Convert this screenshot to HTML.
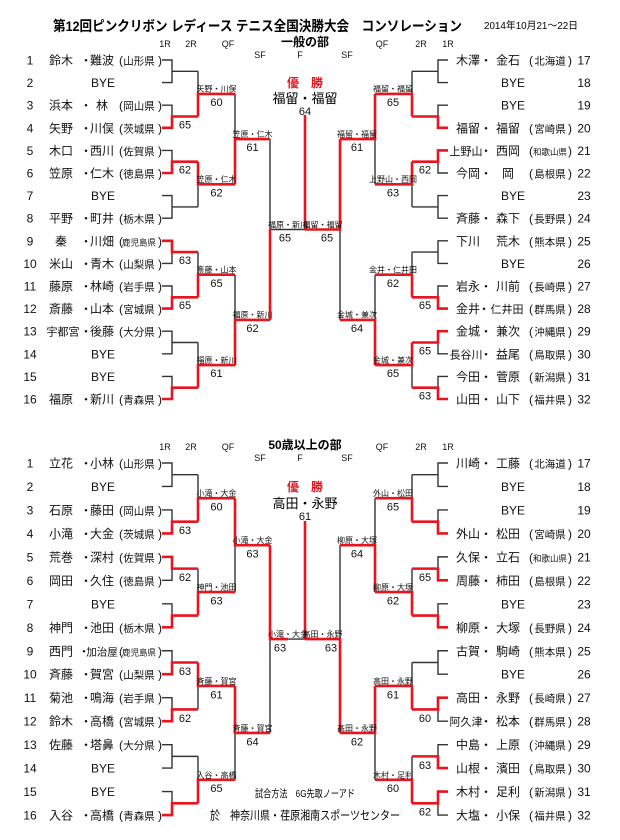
<!DOCTYPE html>
<html><head><meta charset="utf-8"><style>
html,body{margin:0;padding:0;background:#fff;}
svg{display:block;font-family:"Liberation Sans","Noto Sans CJK JP",sans-serif;}
.e{font-size:12px;text-anchor:middle;fill:#111;}
.p{font-size:10.5px;}
.l{font-size:8px;text-anchor:middle;fill:#111;}
.s{font-size:11px;text-anchor:middle;fill:#111;}
.h{font-size:9px;text-anchor:middle;fill:#111;}
.k{fill:none;stroke:#333;stroke-width:1.4;}
.r{fill:none;stroke:#e8141e;stroke-width:2.6;}
</style></head><body>
<svg width="620" height="840" viewBox="0 0 620 840" xmlns="http://www.w3.org/2000/svg">
<rect width="620" height="840" fill="#fff"/>

<text x="53" y="31" font-size="14" font-weight="bold" textLength="409" lengthAdjust="spacingAndGlyphs">第12回ピンクリボン レディース テニス全国決勝大会　コンソレーション</text>
<text x="484" y="29" font-size="10" textLength="94" lengthAdjust="spacingAndGlyphs">2014年10月21～22日</text>
<text x="305" y="46" font-size="12" font-weight="bold" text-anchor="middle">一般の部</text>
<text class="h" y="47"><tspan x="165">1R</tspan><tspan x="191">2R</tspan><tspan x="228">QF</tspan><tspan x="382">QF</tspan><tspan x="421">2R</tspan><tspan x="448">1R</tspan></text>
<text class="h" y="58"><tspan x="260">SF</tspan><tspan x="300">F</tspan><tspan x="347">SF</tspan></text>

<!-- TOP brackets -->
<g transform="translate(0,60) scale(1,22.6)"><path class="k" vector-effect="non-scaling-stroke" d="M162,0H172V1H162 M172,.5H198 M162,2H172V3H162 M172,2.5H198 M162,4H172V5H162 M172,4.5H198 M162,6H172V7H162 M172,6.5H198 M162,8H172V9H162 M172,8.5H198 M162,10H172V11H162 M172,10.5H198 M162,12H172V13H162 M172,12.5H198 M162,14H172V15H162 M172,14.5H198 M198,.5V2.5 M198,1.5H235 M198,4.5V6.5 M198,5.5H235 M198,8.5V10.5 M198,9.5H235 M198,12.5V14.5 M198,13.5H235 M235,1.5V5.5 M235,3.5H270 M235,9.5V13.5 M235,11.5H270 M270,3.5V11.5 M270,7.5H305"/></g>
<g transform="translate(610,60) scale(-1,22.6)"><path class="k" vector-effect="non-scaling-stroke" d="M162,0H172V1H162 M172,.5H198 M162,2H172V3H162 M172,2.5H198 M162,4H172V5H162 M172,4.5H198 M162,6H172V7H162 M172,6.5H198 M162,8H172V9H162 M172,8.5H198 M162,10H172V11H162 M172,10.5H198 M162,12H172V13H162 M172,12.5H198 M162,14H172V15H162 M172,14.5H198 M198,.5V2.5 M198,1.5H235 M198,4.5V6.5 M198,5.5H235 M198,8.5V10.5 M198,9.5H235 M198,12.5V14.5 M198,13.5H235 M235,1.5V5.5 M235,3.5H270 M235,9.5V13.5 M235,11.5H270 M270,3.5V11.5 M270,7.5H305"/></g>
<g transform="translate(0,60) scale(1,22.6)"><path class="r" vector-effect="non-scaling-stroke" d="M162,3H172V2.5H198 M162,5H172V4.5H198 M162,8H172V8.5H198 M162,11H172V10.5H198 M162,15H172V14.5H198 M198,2.5V1.5H235 M198,4.5V5.5H235 M198,10.5V9.5H235 M198,14.5V13.5H235 M235,5.5V3.5H270 M235,13.5V11.5H270 M270,11.5V7.5"/></g>
<g transform="translate(610,60) scale(-1,22.6)"><path class="r" vector-effect="non-scaling-stroke" d="M162,3H172V2.5H198 M162,4H172V4.5H198 M162,11H172V10.5H198 M162,12H172V12.5H198 M162,15H172V14.5H198 M198,2.5V1.5H235 M198,4.5V5.5H235 M198,10.5V9.5H235 M198,12.5V13.5H235 M235,1.5V3.5H270 M235,13.5V11.5H270 M270,3.5V7.5H305"/></g>
<path class="r" d="M305,115V229.5"/>

<!-- BOTTOM brackets -->
<g transform="translate(0,463) scale(1,23.47)"><path class="k" vector-effect="non-scaling-stroke" d="M162,0H172V1H162 M172,.5H198 M162,2H172V3H162 M172,2.5H198 M162,4H172V5H162 M172,4.5H198 M162,6H172V7H162 M172,6.5H198 M162,8H172V9H162 M172,8.5H198 M162,10H172V11H162 M172,10.5H198 M162,12H172V13H162 M172,12.5H198 M162,14H172V15H162 M172,14.5H198 M198,.5V2.5 M198,1.5H235 M198,4.5V6.5 M198,5.5H235 M198,8.5V10.5 M198,9.5H235 M198,12.5V14.5 M198,13.5H235 M235,1.5V5.5 M235,3.5H270 M235,9.5V13.5 M235,11.5H270 M270,3.5V11.5 M270,7.5H305"/></g>
<g transform="translate(610,463) scale(-1,23.47)"><path class="k" vector-effect="non-scaling-stroke" d="M162,0H172V1H162 M172,.5H198 M162,2H172V3H162 M172,2.5H198 M162,4H172V5H162 M172,4.5H198 M162,6H172V7H162 M172,6.5H198 M162,8H172V9H162 M172,8.5H198 M162,10H172V11H162 M172,10.5H198 M162,12H172V13H162 M172,12.5H198 M162,14H172V15H162 M172,14.5H198 M198,.5V2.5 M198,1.5H235 M198,4.5V6.5 M198,5.5H235 M198,8.5V10.5 M198,9.5H235 M198,12.5V14.5 M198,13.5H235 M235,1.5V5.5 M235,3.5H270 M235,9.5V13.5 M235,11.5H270 M270,3.5V11.5 M270,7.5H305"/></g>
<g transform="translate(0,463) scale(1,23.47)"><path class="r" vector-effect="non-scaling-stroke" d="M162,3H172V2.5H198 M162,4H172V4.5H198 M162,7H172V6.5H198 M162,9H172V8.5H198 M162,11H172V10.5H198 M162,15H172V14.5H198 M198,2.5V1.5H235 M198,6.5V5.5H235 M198,8.5V9.5H235 M198,14.5V13.5H235 M235,1.5V3.5H270 M235,9.5V11.5H270 M270,3.5V7.5H288"/></g>
<g transform="translate(610,463) scale(-1,23.47)"><path class="r" vector-effect="non-scaling-stroke" d="M162,3H172V2.5H198 M162,5H172V4.5H198 M162,7H172V6.5H198 M162,10H172V10.5H198 M162,13H172V12.5H198 M162,14H172V14.5H198 M198,2.5V1.5H235 M198,6.5V5.5H235 M198,10.5V9.5H235 M198,14.5V13.5H235 M235,5.5V3.5H270 M235,9.5V11.5H270 M270,11.5V7.5H305"/></g>
<path class="r" d="M305,521V639"/>

<!-- Top center -->
<text x="305" y="87" font-size="12" font-weight="bold" fill="#e8141e" text-anchor="middle">優　勝</text>
<text x="305" y="103" font-size="13" text-anchor="middle">福留・福留</text>
<text x="305" y="115" class="s">64</text>

<!-- Top left entries -->
<g class="e">
<text y="64.5"><tspan x="30">1</tspan><tspan x="61">鈴木</tspan><tspan x="86">・</tspan><tspan x="102">難波</tspan><tspan x="121">(</tspan><tspan x="139" class="p">山形県</tspan><tspan x="160">)</tspan></text>
<text y="87.1"><tspan x="30">2</tspan><tspan x="103">BYE</tspan></text>
<text y="109.7"><tspan x="30">3</tspan><tspan x="61">浜本</tspan><tspan x="86">・</tspan><tspan x="102">林</tspan><tspan x="121">(</tspan><tspan x="139" class="p">岡山県</tspan><tspan x="160">)</tspan></text>
<text y="132.3"><tspan x="30">4</tspan><tspan x="61">矢野</tspan><tspan x="86">・</tspan><tspan x="102">川俣</tspan><tspan x="121">(</tspan><tspan x="139" class="p">茨城県</tspan><tspan x="160">)</tspan></text>
<text y="154.9"><tspan x="30">5</tspan><tspan x="61">木口</tspan><tspan x="86">・</tspan><tspan x="102">西川</tspan><tspan x="121">(</tspan><tspan x="139" class="p">佐賀県</tspan><tspan x="160">)</tspan></text>
<text y="177.5"><tspan x="30">6</tspan><tspan x="61">笠原</tspan><tspan x="86">・</tspan><tspan x="102">仁木</tspan><tspan x="121">(</tspan><tspan x="139" class="p">徳島県</tspan><tspan x="160">)</tspan></text>
<text y="200.1"><tspan x="30">7</tspan><tspan x="103">BYE</tspan></text>
<text y="222.7"><tspan x="30">8</tspan><tspan x="61">平野</tspan><tspan x="86">・</tspan><tspan x="102">町井</tspan><tspan x="121">(</tspan><tspan x="139" class="p">栃木県</tspan><tspan x="160">)</tspan></text>
<text y="245.3"><tspan x="30">9</tspan><tspan x="61">秦</tspan><tspan x="86">・</tspan><tspan x="102">川畑</tspan><tspan x="121">(</tspan><tspan x="139" font-size="8.5">鹿児島県</tspan><tspan x="160">)</tspan></text>
<text y="267.9"><tspan x="30">10</tspan><tspan x="61">米山</tspan><tspan x="86">・</tspan><tspan x="102">青木</tspan><tspan x="121">(</tspan><tspan x="139" class="p">山梨県</tspan><tspan x="160">)</tspan></text>
<text y="290.5"><tspan x="30">11</tspan><tspan x="61">藤原</tspan><tspan x="86">・</tspan><tspan x="102">林崎</tspan><tspan x="121">(</tspan><tspan x="139" class="p">岩手県</tspan><tspan x="160">)</tspan></text>
<text y="313.1"><tspan x="30">12</tspan><tspan x="61">斎藤</tspan><tspan x="86">・</tspan><tspan x="102">山本</tspan><tspan x="121">(</tspan><tspan x="139" class="p">宮城県</tspan><tspan x="160">)</tspan></text>
<text y="335.7"><tspan x="30">13</tspan><tspan x="63" font-size="11">宇都宮</tspan><tspan x="86">・</tspan><tspan x="102">後藤</tspan><tspan x="121">(</tspan><tspan x="139" class="p">大分県</tspan><tspan x="160">)</tspan></text>
<text y="358.3"><tspan x="30">14</tspan><tspan x="103">BYE</tspan></text>
<text y="380.9"><tspan x="30">15</tspan><tspan x="103">BYE</tspan></text>
<text y="403.5"><tspan x="30">16</tspan><tspan x="61">福原</tspan><tspan x="86">・</tspan><tspan x="102">新川</tspan><tspan x="121">(</tspan><tspan x="139" class="p">青森県</tspan><tspan x="160">)</tspan></text>
</g>
<!-- Top right entries -->
<g class="e">
<text y="64.5"><tspan x="468">木澤</tspan><tspan x="486">・</tspan><tspan x="508">金石</tspan><tspan x="531">(</tspan><tspan x="550" class="p">北海道</tspan><tspan x="570">)</tspan><tspan x="584">17</tspan></text>
<text y="87.1"><tspan x="513">BYE</tspan><tspan x="584">18</tspan></text>
<text y="109.7"><tspan x="513">BYE</tspan><tspan x="584">19</tspan></text>
<text y="132.3"><tspan x="468">福留</tspan><tspan x="486">・</tspan><tspan x="508">福留</tspan><tspan x="531">(</tspan><tspan x="550" class="p">宮崎県</tspan><tspan x="570">)</tspan><tspan x="584">20</tspan></text>
<text y="154.9"><tspan x="466" font-size="11">上野山</tspan><tspan x="486">・</tspan><tspan x="508">西岡</tspan><tspan x="531">(</tspan><tspan x="550" font-size="8.5">和歌山県</tspan><tspan x="570">)</tspan><tspan x="584">21</tspan></text>
<text y="177.5"><tspan x="468">今岡</tspan><tspan x="486">・</tspan><tspan x="508">岡</tspan><tspan x="531">(</tspan><tspan x="550" class="p">島根県</tspan><tspan x="570">)</tspan><tspan x="584">22</tspan></text>
<text y="200.1"><tspan x="513">BYE</tspan><tspan x="584">23</tspan></text>
<text y="222.7"><tspan x="468">斉藤</tspan><tspan x="486">・</tspan><tspan x="508">森下</tspan><tspan x="531">(</tspan><tspan x="550" class="p">長野県</tspan><tspan x="570">)</tspan><tspan x="584">24</tspan></text>
<text y="245.3"><tspan x="468">下川</tspan><tspan x="508">荒木</tspan><tspan x="531">(</tspan><tspan x="550" class="p">熊本県</tspan><tspan x="570">)</tspan><tspan x="584">25</tspan></text>
<text y="267.9"><tspan x="513">BYE</tspan><tspan x="584">26</tspan></text>
<text y="290.5"><tspan x="468">岩永</tspan><tspan x="486">・</tspan><tspan x="508">川前</tspan><tspan x="531">(</tspan><tspan x="550" class="p">長崎県</tspan><tspan x="570">)</tspan><tspan x="584">27</tspan></text>
<text y="313.1"><tspan x="468">金井</tspan><tspan x="484">・</tspan><tspan x="507" font-size="11">仁井田</tspan><tspan x="531">(</tspan><tspan x="550" class="p">群馬県</tspan><tspan x="570">)</tspan><tspan x="584">28</tspan></text>
<text y="335.7"><tspan x="468">金城</tspan><tspan x="486">・</tspan><tspan x="508">兼次</tspan><tspan x="531">(</tspan><tspan x="550" class="p">沖縄県</tspan><tspan x="570">)</tspan><tspan x="584">29</tspan></text>
<text y="358.3"><tspan x="466" font-size="11">長谷川</tspan><tspan x="486">・</tspan><tspan x="508">益尾</tspan><tspan x="531">(</tspan><tspan x="550" class="p">鳥取県</tspan><tspan x="570">)</tspan><tspan x="584">30</tspan></text>
<text y="380.9"><tspan x="468">今田</tspan><tspan x="486">・</tspan><tspan x="508">菅原</tspan><tspan x="531">(</tspan><tspan x="550" class="p">新潟県</tspan><tspan x="570">)</tspan><tspan x="584">31</tspan></text>
<text y="403.5"><tspan x="468">山田</tspan><tspan x="486">・</tspan><tspan x="508">山下</tspan><tspan x="531">(</tspan><tspan x="550" class="p">福井県</tspan><tspan x="570">)</tspan><tspan x="584">32</tspan></text>
</g>

<!-- Top labels & scores -->
<g class="l">
<text x="216.5" y="91.5">矢野・川俣</text><text x="216.5" y="182">笠原・仁木</text><text x="216.5" y="272.5">斎藤・山本</text><text x="216.5" y="363">福原・新川</text>
<text x="252.5" y="137">笠原・仁木</text><text x="252.5" y="317.5">福原・新川</text>
<text x="288" y="227.5">福原・新川</text>
<text x="393" y="91.5">福留・福留</text><text x="393" y="182">上野山・西岡</text><text x="393" y="272.5">金井・仁井田</text><text x="393" y="363">金城・兼次</text>
<text x="357" y="137">福留・福留</text><text x="357" y="317.5">金城・兼次</text>
<text x="322.5" y="227.5">福留・福留</text>
</g>
<g class="s">
<text x="216.5" y="106">60</text><text x="216.5" y="196.5">62</text><text x="216.5" y="287">65</text><text x="216.5" y="377">61</text>
<text x="252.5" y="151">61</text><text x="252.5" y="332">62</text>
<text x="285" y="241.5">65</text>
<text x="185" y="128.5">65</text><text x="185" y="173.5">62</text><text x="185" y="264">63</text><text x="185" y="309">65</text>
<text x="393" y="106">65</text><text x="393" y="196.5">63</text><text x="393" y="287">62</text><text x="393" y="377">65</text>
<text x="357" y="151">61</text><text x="357" y="332">64</text>
<text x="327" y="241.5">65</text>
<text x="425" y="173.5">62</text><text x="425" y="309">65</text><text x="425" y="354.5">65</text><text x="425" y="399.5">63</text>
</g>

<!-- Bottom headers -->
<text x="305" y="449" font-size="12" font-weight="bold" text-anchor="middle">50歳以上の部</text>
<text class="h" y="450"><tspan x="165">1R</tspan><tspan x="191">2R</tspan><tspan x="228">QF</tspan><tspan x="382">QF</tspan><tspan x="421">2R</tspan><tspan x="448">1R</tspan></text>
<text class="h" y="461"><tspan x="260">SF</tspan><tspan x="300">F</tspan><tspan x="347">SF</tspan></text>
<text x="305" y="491" font-size="12" font-weight="bold" fill="#e8141e" text-anchor="middle">優　勝</text>
<text x="305" y="508" font-size="13" text-anchor="middle">高田・永野</text>
<text x="305" y="520" class="s">61</text>

<!-- Bottom left entries -->
<g class="e">
<text y="467.5"><tspan x="30">1</tspan><tspan x="61">立花</tspan><tspan x="86">・</tspan><tspan x="102">小林</tspan><tspan x="121">(</tspan><tspan x="139" class="p">山形県</tspan><tspan x="160">)</tspan></text>
<text y="491"><tspan x="30">2</tspan><tspan x="103">BYE</tspan></text>
<text y="514.4"><tspan x="30">3</tspan><tspan x="61">石原</tspan><tspan x="86">・</tspan><tspan x="102">藤田</tspan><tspan x="121">(</tspan><tspan x="139" class="p">岡山県</tspan><tspan x="160">)</tspan></text>
<text y="537.9"><tspan x="30">4</tspan><tspan x="61">小滝</tspan><tspan x="86">・</tspan><tspan x="102">大金</tspan><tspan x="121">(</tspan><tspan x="139" class="p">茨城県</tspan><tspan x="160">)</tspan></text>
<text y="561.4"><tspan x="30">5</tspan><tspan x="61">荒巻</tspan><tspan x="86">・</tspan><tspan x="102">深村</tspan><tspan x="121">(</tspan><tspan x="139" class="p">佐賀県</tspan><tspan x="160">)</tspan></text>
<text y="584.9"><tspan x="30">6</tspan><tspan x="61">岡田</tspan><tspan x="86">・</tspan><tspan x="102">久住</tspan><tspan x="121">(</tspan><tspan x="139" class="p">徳島県</tspan><tspan x="160">)</tspan></text>
<text y="608.3"><tspan x="30">7</tspan><tspan x="103">BYE</tspan></text>
<text y="631.8"><tspan x="30">8</tspan><tspan x="61">神門</tspan><tspan x="86">・</tspan><tspan x="102">池田</tspan><tspan x="121">(</tspan><tspan x="139" class="p">栃木県</tspan><tspan x="160">)</tspan></text>
<text y="655.3"><tspan x="30">9</tspan><tspan x="61">西門</tspan><tspan x="84">・</tspan><tspan x="102" font-size="10.5">加治屋</tspan><tspan x="121">(</tspan><tspan x="139" font-size="8.5">鹿児島県</tspan><tspan x="160">)</tspan></text>
<text y="678.7"><tspan x="30">10</tspan><tspan x="61">斉藤</tspan><tspan x="86">・</tspan><tspan x="102">賀宮</tspan><tspan x="121">(</tspan><tspan x="139" class="p">山梨県</tspan><tspan x="160">)</tspan></text>
<text y="702.2"><tspan x="30">11</tspan><tspan x="61">菊池</tspan><tspan x="86">・</tspan><tspan x="102">鳴海</tspan><tspan x="121">(</tspan><tspan x="139" class="p">岩手県</tspan><tspan x="160">)</tspan></text>
<text y="725.7"><tspan x="30">12</tspan><tspan x="61">鈴木</tspan><tspan x="86">・</tspan><tspan x="102">高橋</tspan><tspan x="121">(</tspan><tspan x="139" class="p">宮城県</tspan><tspan x="160">)</tspan></text>
<text y="749.1"><tspan x="30">13</tspan><tspan x="61">佐藤</tspan><tspan x="86">・</tspan><tspan x="102">塔鼻</tspan><tspan x="121">(</tspan><tspan x="139" class="p">大分県</tspan><tspan x="160">)</tspan></text>
<text y="772.6"><tspan x="30">14</tspan><tspan x="103">BYE</tspan></text>
<text y="796.1"><tspan x="30">15</tspan><tspan x="103">BYE</tspan></text>
<text y="819.6"><tspan x="30">16</tspan><tspan x="61">入谷</tspan><tspan x="86">・</tspan><tspan x="102">高橋</tspan><tspan x="121">(</tspan><tspan x="139" class="p">青森県</tspan><tspan x="160">)</tspan></text>
</g>
<!-- Bottom right entries -->
<g class="e">
<text y="467.5"><tspan x="468">川崎</tspan><tspan x="486">・</tspan><tspan x="508">工藤</tspan><tspan x="531">(</tspan><tspan x="550" class="p">北海道</tspan><tspan x="570">)</tspan><tspan x="584">17</tspan></text>
<text y="491"><tspan x="513">BYE</tspan><tspan x="584">18</tspan></text>
<text y="514.4"><tspan x="513">BYE</tspan><tspan x="584">19</tspan></text>
<text y="537.9"><tspan x="468">外山</tspan><tspan x="486">・</tspan><tspan x="508">松田</tspan><tspan x="531">(</tspan><tspan x="550" class="p">宮崎県</tspan><tspan x="570">)</tspan><tspan x="584">20</tspan></text>
<text y="561.4"><tspan x="468">久保</tspan><tspan x="486">・</tspan><tspan x="508">立石</tspan><tspan x="531">(</tspan><tspan x="550" font-size="8.5">和歌山県</tspan><tspan x="570">)</tspan><tspan x="584">21</tspan></text>
<text y="584.9"><tspan x="468">周藤</tspan><tspan x="486">・</tspan><tspan x="508">柿田</tspan><tspan x="531">(</tspan><tspan x="550" class="p">島根県</tspan><tspan x="570">)</tspan><tspan x="584">22</tspan></text>
<text y="608.3"><tspan x="513">BYE</tspan><tspan x="584">23</tspan></text>
<text y="631.8"><tspan x="468">柳原</tspan><tspan x="486">・</tspan><tspan x="508">大塚</tspan><tspan x="531">(</tspan><tspan x="550" class="p">長野県</tspan><tspan x="570">)</tspan><tspan x="584">24</tspan></text>
<text y="655.3"><tspan x="468">古賀</tspan><tspan x="486">・</tspan><tspan x="508">駒崎</tspan><tspan x="531">(</tspan><tspan x="550" class="p">熊本県</tspan><tspan x="570">)</tspan><tspan x="584">25</tspan></text>
<text y="678.7"><tspan x="513">BYE</tspan><tspan x="584">26</tspan></text>
<text y="702.2"><tspan x="468">高田</tspan><tspan x="486">・</tspan><tspan x="508">永野</tspan><tspan x="531">(</tspan><tspan x="550" class="p">長崎県</tspan><tspan x="570">)</tspan><tspan x="584">27</tspan></text>
<text y="725.7"><tspan x="466" font-size="11">阿久津</tspan><tspan x="486">・</tspan><tspan x="508">松本</tspan><tspan x="531">(</tspan><tspan x="550" class="p">群馬県</tspan><tspan x="570">)</tspan><tspan x="584">28</tspan></text>
<text y="749.1"><tspan x="468">中島</tspan><tspan x="486">・</tspan><tspan x="508">上原</tspan><tspan x="531">(</tspan><tspan x="550" class="p">沖縄県</tspan><tspan x="570">)</tspan><tspan x="584">29</tspan></text>
<text y="772.6"><tspan x="468">山根</tspan><tspan x="486">・</tspan><tspan x="508">濱田</tspan><tspan x="531">(</tspan><tspan x="550" class="p">鳥取県</tspan><tspan x="570">)</tspan><tspan x="584">30</tspan></text>
<text y="796.1"><tspan x="468">木村</tspan><tspan x="486">・</tspan><tspan x="508">足利</tspan><tspan x="531">(</tspan><tspan x="550" class="p">新潟県</tspan><tspan x="570">)</tspan><tspan x="584">31</tspan></text>
<text y="819.6"><tspan x="468">大塩</tspan><tspan x="486">・</tspan><tspan x="508">小保</tspan><tspan x="531">(</tspan><tspan x="550" class="p">福井県</tspan><tspan x="570">)</tspan><tspan x="584">32</tspan></text>
</g>

<!-- Bottom labels & scores -->
<g class="l">
<text x="216.5" y="496">小滝・大金</text><text x="216.5" y="590">神門・池田</text><text x="216.5" y="684">斉藤・賀宮</text><text x="216.5" y="778">入谷・高橋</text>
<text x="252.5" y="543">小滝・大金</text><text x="252.5" y="731">斉藤・賀宮</text>
<text x="288" y="637">小滝・大金</text>
<text x="393" y="496">外山・松田</text><text x="393" y="590">柳原・大塚</text><text x="393" y="684">高田・永野</text><text x="393" y="778">木村・足利</text>
<text x="357" y="543">柳原・大塚</text><text x="357" y="731">高田・永野</text>
<text x="322.5" y="637">高田・永野</text>
</g>
<g class="s">
<text x="216.5" y="510.5">60</text><text x="216.5" y="604.5">63</text><text x="216.5" y="698.5">61</text><text x="216.5" y="792">65</text>
<text x="252.5" y="557.5">63</text><text x="252.5" y="745.5">64</text>
<text x="280" y="651.5">63</text>
<text x="185" y="534">63</text><text x="185" y="581">62</text><text x="185" y="675">63</text><text x="185" y="722">62</text>
<text x="393" y="510.5">65</text><text x="393" y="604.5">62</text><text x="393" y="698.5">61</text><text x="393" y="792">60</text>
<text x="357" y="557.5">64</text><text x="357" y="745.5">62</text>
<text x="331" y="651.5">63</text>
<text x="425" y="581">65</text><text x="425" y="722">60</text><text x="425" y="769">63</text><text x="425" y="815.5">62</text>
</g>

<!-- Footer -->
<text x="255" y="797" font-size="10.5" textLength="100" lengthAdjust="spacingAndGlyphs">試合方法　6G先取ノーアド</text>
<text x="210" y="819.5" font-size="12" textLength="190" lengthAdjust="spacingAndGlyphs">於　神奈川県・荏原湘南スポーツセンター</text>
</svg>
</body></html>
